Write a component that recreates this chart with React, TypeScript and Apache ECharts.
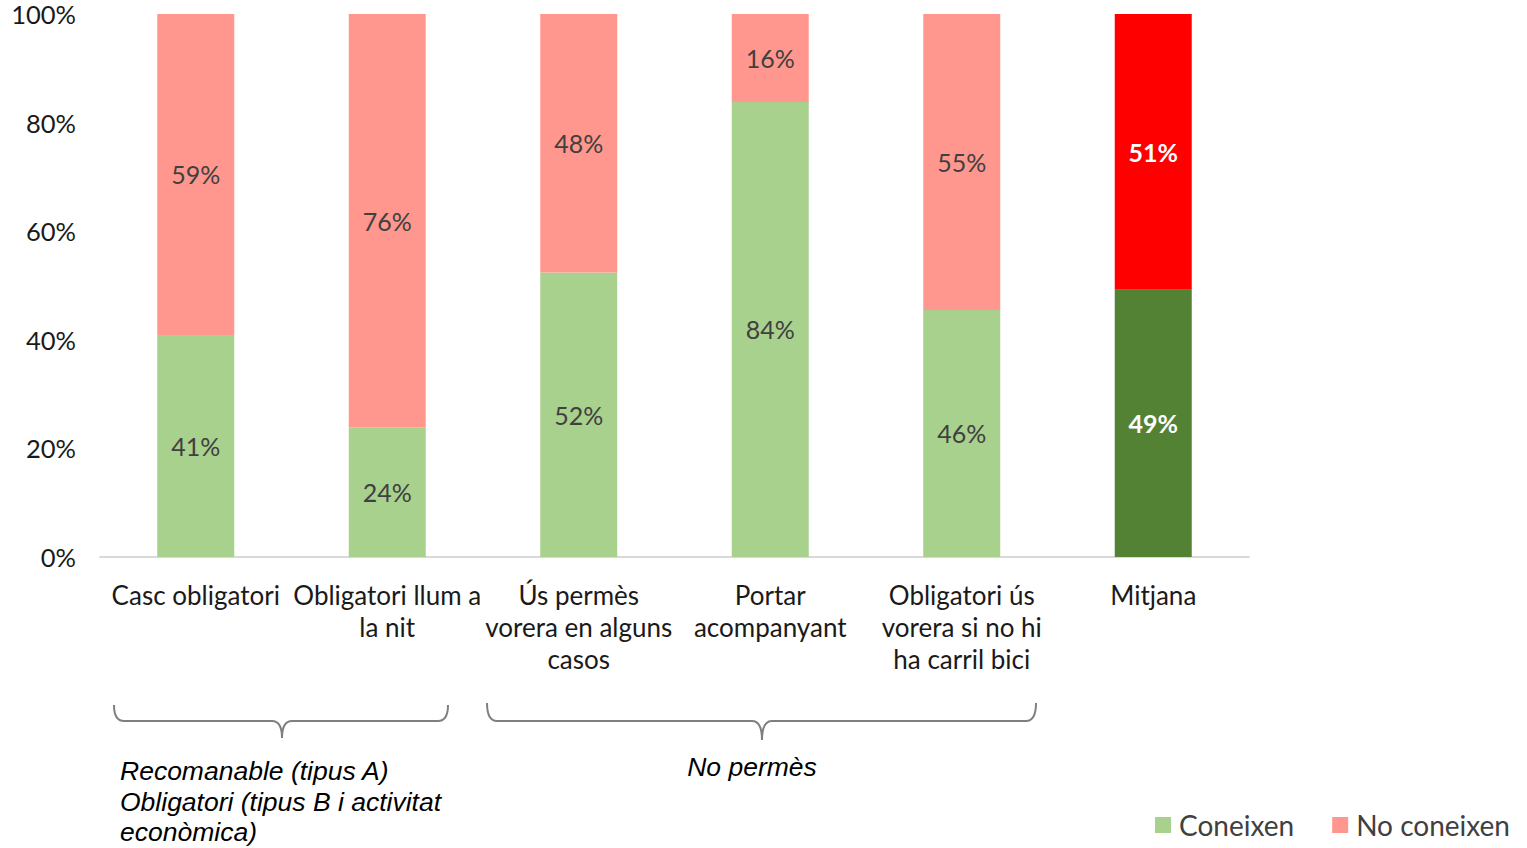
import React, { useEffect, useRef } from "react";
import * as echarts from "echarts";

const categories = [
  "Casc obligatori",
  "Obligatori llum a\nla nit",
  "Ús permès\nvorera en alguns\ncasos",
  "Portar\nacompanyant",
  "Obligatori ús\nvorera si no hi\nha carril bici",
  "Mitjana",
];
const coneixen = [40.9, 23.9, 52.4, 83.8, 45.5, 49.2];
const noConeixen = [59.1, 76.1, 47.6, 16.2, 54.5, 50.8];
const yTicks = [0, 20, 40, 60, 80, 100];
const seriesNames = ["Coneixen", "No coneixen"];
const groupLabels = [
  "Recomanable (tipus A)\nObligatori (tipus B i activitat\neconòmica)",
  "No permès",
];

const GREEN = "#A9D18E";
const RED = "#FF978E";
const DARK_GREEN = "#548235";
const BRIGHT_RED = "#FF0000";
const FONT = "Lato, 'Open Sans', sans-serif";

let braceRegistered = false;
function registerBrace() {
  if (braceRegistered) return;
  const Brace = echarts.graphic.extendShape({
    shape: { x1: 0, x2: 0, xm: 0, yTop: 0, yMid: 0, yTip: 0, r: 10 },
    buildPath(ctx: any, s: any) {
      ctx.moveTo(s.x1, s.yTop);
      ctx.quadraticCurveTo(s.x1, s.yMid, s.x1 + s.r, s.yMid);
      ctx.lineTo(s.xm - s.r, s.yMid);
      ctx.quadraticCurveTo(s.xm, s.yMid, s.xm, s.yTip);
      ctx.moveTo(s.xm, s.yTip);
      ctx.quadraticCurveTo(s.xm, s.yMid, s.xm + s.r, s.yMid);
      ctx.lineTo(s.x2 - s.r, s.yMid);
      ctx.quadraticCurveTo(s.x2, s.yMid, s.x2, s.yTop);
    },
  });
  echarts.graphic.registerShape("brace", Brace);
  braceRegistered = true;
}

export default function App() {
  const ref = useRef<HTMLDivElement>(null);
  useEffect(() => {
    if (!ref.current) return;
    registerBrace();
    const chart = echarts.init(ref.current, null, { renderer: "svg" });
    const last = categories.length - 1;
    const fmt = (p: any) => `${Math.round(p.value)}%`;
    const mk = (vals: number[], color: string, special: string) =>
      vals.map((v, i) =>
        i === last
          ? {
              value: v,
              itemStyle: { color: special },
              label: { color: "#ffffff", fontWeight: "bold" },
            }
          : { value: v, itemStyle: { color } }
      );
    const labelBase = {
      show: true,
      position: "inside",
      formatter: fmt,
      fontFamily: FONT,
      fontSize: 25,
      color: "#404040",
    };
    const braceStyle = { stroke: "#7f7f7f", lineWidth: 2, fill: "none" };
    const italicFont = "'Liberation Sans', Arial, sans-serif";
    chart.setOption({
      animation: false,
      grid: { left: 100, right: 278, top: 14, bottom: 291, containLabel: false },
      xAxis: {
        type: "category",
        data: categories,
        axisLine: { lineStyle: { color: "#d9d9d9", width: 2 } },
        axisTick: { show: false },
        axisLabel: {
          interval: 0,
          margin: 22,
          fontFamily: FONT,
          fontSize: 26,
          lineHeight: 32,
          color: "#1a1a1a",
        },
      },
      yAxis: {
        type: "value",
        min: yTicks[0],
        max: yTicks[yTicks.length - 1],
        interval: yTicks[1] - yTicks[0],
        splitLine: { show: false },
        axisLine: { show: false },
        axisTick: { show: false },
        axisLabel: {
          formatter: "{value}%",
          margin: 24,
          fontFamily: FONT,
          fontSize: 25.5,
          color: "#1a1a1a",
        },
      },
      legend: {
        data: seriesNames,
        left: 1150,
        top: 806,
        icon: "rect",
        itemWidth: 16,
        itemHeight: 16,
        itemGap: 38,
        selectedMode: false,
        textStyle: {
          fontFamily: FONT,
          fontSize: 28,
          color: "#404040",
          padding: [0, 0, 0, 3],
        },
      },
      series: [
        {
          name: seriesNames[0],
          type: "bar",
          stack: "total",
          barWidth: 77,
          itemStyle: { color: GREEN },
          data: mk(coneixen, GREEN, DARK_GREEN),
          label: labelBase,
        },
        {
          name: seriesNames[1],
          type: "bar",
          stack: "total",
          barWidth: 77,
          itemStyle: { color: RED },
          data: mk(noConeixen, RED, BRIGHT_RED),
          label: labelBase,
        },
      ],
      graphic: [
        {
          type: "brace",
          shape: { x1: 114, x2: 448, xm: 282, yTop: 705, yMid: 721, yTip: 738, r: 10 },
          style: braceStyle,
        },
        {
          type: "brace",
          shape: { x1: 487, x2: 1036, xm: 762, yTop: 703, yMid: 721, yTip: 740, r: 10 },
          style: braceStyle,
        },
        {
          type: "text",
          left: 120,
          top: 756,
          style: {
            text: groupLabels[0],
            fontFamily: italicFont,
            fontStyle: "italic",
            fontSize: 26.5,
            lineHeight: 30.5,
            fill: "#000000",
          },
        },
        {
          type: "text",
          x: 752,
          y: 767,
          style: {
            text: groupLabels[1],
            fontFamily: italicFont,
            fontStyle: "italic",
            fontSize: 26.5,
            fill: "#000000",
            align: "center",
            verticalAlign: "middle",
          },
        },
      ],
    });
    return () => chart.dispose();
  }, []);
  return (
    <div
      ref={ref}
      style={{ width: 1527, height: 848, position: "absolute", left: 0, top: 0 }}
    />
  );
}
